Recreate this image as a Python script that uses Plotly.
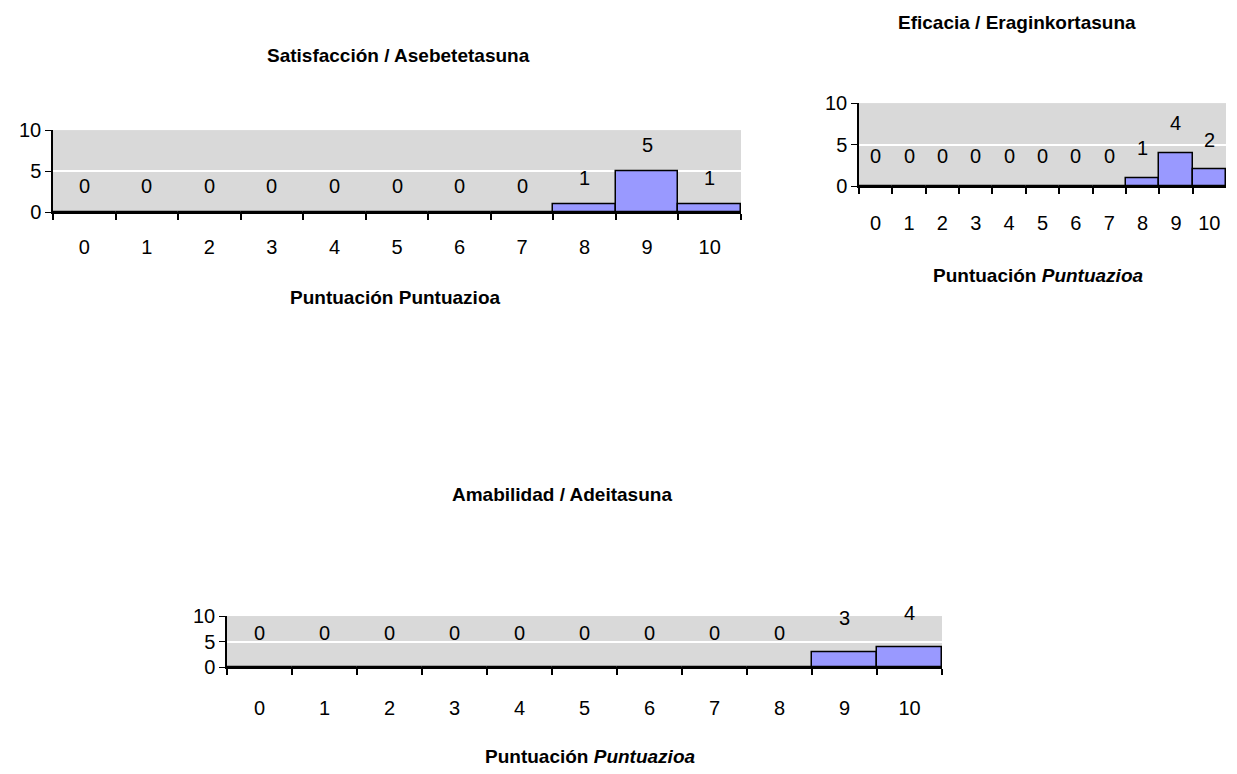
import plotly.graph_objects as go

categories = [str(i) for i in range(11)]
satisfaccion = [0, 0, 0, 0, 0, 0, 0, 0, 1, 5, 1]
eficacia = [0, 0, 0, 0, 0, 0, 0, 0, 1, 4, 2]
amabilidad = [0, 0, 0, 0, 0, 0, 0, 0, 0, 3, 4]
y_ticks = [0, 5, 10]

titles = ["Satisfacción / Asebetetasuna", "Eficacia / Eraginkortasuna", "Amabilidad / Adeitasuna"]
xtitles = ["Puntuación Puntuazioa", "Puntuación <i>Puntuazioa</i>", "Puntuación <i>Puntuazioa</i>"]

W, H = 1237, 774
BAR = "#9999FF"
BG = "#D9D9D9"
FONT = "Liberation Sans"


def py(y):
    # compensate for vertical scaling observed in the rendered page
    return (y - 10.6) / 0.972


# pixel boxes: (left, right, top, bottom)
boxes = [(53, 741, 130, 212), (859, 1226, 103, 186), (227, 942, 616, 667)]
title_pos = [(398, 55), (1017, 22), (562, 494)]
xtitle_pos = [(395, 297), (1038, 275), (590, 756)]
label_shift = [26, 30, 34]
xlabel_standoff = [16, 18, 22]
TICK_SIZE = 20
TITLE_SIZE = 19

series = [satisfaccion, eficacia, amabilidad]

fig = go.Figure()
annotations = []
for i, (vals, box) in enumerate(zip(series, boxes)):
    ax = "" if i == 0 else str(i + 1)
    fig.add_trace(go.Bar(
        x=categories, y=vals, xaxis="x" + ax, yaxis="y" + ax,
        marker=dict(color=BAR, line=dict(color="black", width=1.5)),
        width=1.0, showlegend=False, hoverinfo="skip",
    ))
    l, r, t, b = box
    fig.update_layout(**{
        "xaxis" + ax: dict(
            domain=[l / W, r / W], anchor="y" + ax, type="category",
            showline=True, linecolor="black", linewidth=2, ticks="outside",
            tickson="boundaries", ticklen=6, tickwidth=2, tickcolor="black",
            ticklabelstandoff=xlabel_standoff[i],
            tickfont=dict(family=FONT, size=TICK_SIZE, color="black"),
            showgrid=False, zeroline=False, fixedrange=True,
        ),
        "yaxis" + ax: dict(
            domain=[1 - py(b) / H, 1 - py(t) / H], anchor="x" + ax, range=[0, 10],
            tickvals=y_ticks, showline=True, linecolor="black", linewidth=1.5,
            ticks="outside", ticklen=6, tickcolor="black",
            tickfont=dict(family=FONT, size=TICK_SIZE, color="black"),
            showgrid=True, gridcolor="white", gridwidth=1.5, zeroline=False,
            fixedrange=True,
        ),
    })
    fig.add_shape(type="rect", xref="x" + ax + " domain", yref="y" + ax + " domain",
                  x0=0, x1=1, y0=0, y1=1, fillcolor=BG, line_width=0, layer="below")
    for c, v in zip(categories, vals):
        annotations.append(dict(
            x=c, y=v, xref="x" + ax, yref="y" + ax, text=str(v), showarrow=False,
            yanchor="middle", yshift=label_shift[i],
            font=dict(family=FONT, size=TICK_SIZE, color="black"),
        ))
    tx, ty = title_pos[i]
    annotations.append(dict(x=tx / W, y=1 - py(ty) / H, xref="paper", yref="paper",
                            text="<b>" + titles[i] + "</b>", showarrow=False,
                            xanchor="center", yanchor="middle",
                            font=dict(family=FONT, size=TITLE_SIZE, color="black")))
    xx, xy = xtitle_pos[i]
    annotations.append(dict(x=xx / W, y=1 - py(xy) / H, xref="paper", yref="paper",
                            text="<b>" + xtitles[i] + "</b>", showarrow=False,
                            xanchor="center", yanchor="middle",
                            font=dict(family=FONT, size=TITLE_SIZE, color="black")))

fig.update_layout(
    width=W, height=H, margin=dict(l=0, r=0, t=0, b=0),
    paper_bgcolor="white", plot_bgcolor=BG, bargap=0,
    annotations=annotations,
)

fig.write_html("out.html")
